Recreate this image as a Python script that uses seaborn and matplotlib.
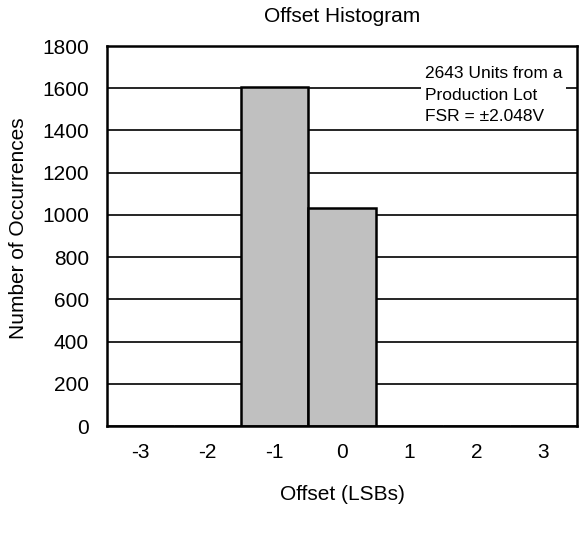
import matplotlib
matplotlib.use("Agg")
import matplotlib.pyplot as plt
import seaborn as sns
import pandas as pd

offsets = ["-3", "-2", "-1", "0", "1", "2", "3"]
counts = [0, 0, 1608, 1035, 0, 0, 0]
yticks = [0, 200, 400, 600, 800, 1000, 1200, 1400, 1600, 1800]

sns.set_style("white")
plt.rcParams['font.family'] = ['Liberation Sans', 'DejaVu Sans']
plt.rcParams['text.color'] = 'black'
plt.rcParams['xtick.color'] = 'black'
plt.rcParams['ytick.color'] = 'black'

df = pd.DataFrame({"offset": offsets, "count": counts})

fig = plt.figure(figsize=(5.81, 5.36), dpi=100)
ax = fig.add_axes([107/581, 1-426/536, 470/581, 380/536])

for y in yticks[1:-1]:
    ax.axhline(y, color="black", lw=1.2, zorder=0)

sns.barplot(data=df, x="offset", y="count", order=offsets, color="#c0c0c0",
            saturation=1, width=1.0, edgecolor="black", linewidth=1.8, ax=ax, zorder=2)

ax.set_ylim(0, 1800)
ax.set_xlim(-0.5, 6.5)
ax.set_yticks(yticks)
ax.tick_params(axis="y", labelsize=15, length=0, pad=13, labelcolor="black")
ax.tick_params(axis="x", labelsize=15, length=0, pad=12, labelcolor="black")
for s in ax.spines.values():
    s.set_color("black")
    s.set_linewidth(1.8)

ax.set_xlabel("")
ax.set_ylabel("")
fig.text(342/581, 1-494/536, "Offset (LSBs)", fontsize=15, ha="center", va="center", color="black")
fig.text(19/581, 1-228/536, "Number of Occurrences", fontsize=15, ha="center", va="center",
         rotation=90, color="black")
fig.text(342/581, 1-17/536, "Offset Histogram", fontsize=15, ha="center", va="center", color="black")

ax.text(0.676, 0.871, "2643 Units from a\nProduction Lot\nFSR = \u00b12.048V",
        transform=ax.transAxes, fontsize=12.5, ha="left", va="center", linespacing=1.52,
        color="black", bbox=dict(facecolor="white", edgecolor="none", pad=3), zorder=5)

fig.savefig("out.png", dpi=100)
